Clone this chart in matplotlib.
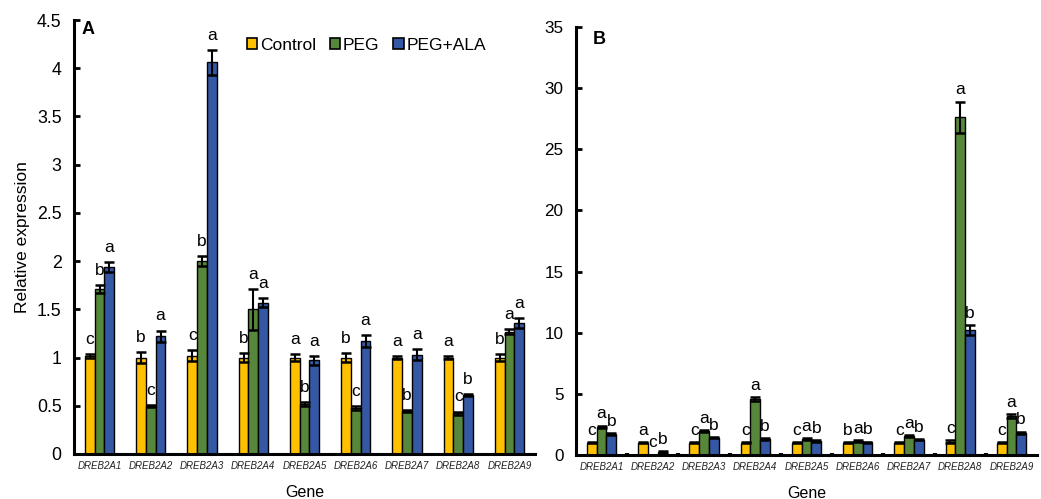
import matplotlib
matplotlib.use('Agg')
from matplotlib import pyplot as plt
import numpy as np

plt.rcParams['font.family'] = ['Liberation Sans', 'DejaVu Sans']

genes = ['DREB2A1', 'DREB2A2', 'DREB2A3', 'DREB2A4', 'DREB2A5',
         'DREB2A6', 'DREB2A7', 'DREB2A8', 'DREB2A9']
treatments = ['Control', 'PEG', 'PEG+ALA']
colors = ['#FFC000', '#56873A', '#3458A4']

# panel A
a_control = [1.02, 1.00, 1.02, 1.00, 1.00, 1.00, 1.00, 1.00, 1.00]
a_peg = [1.71, 0.50, 2.00, 1.50, 0.52, 0.48, 0.45, 0.42, 1.27]
a_ala = [1.94, 1.22, 4.06, 1.57, 0.97, 1.17, 1.03, 0.61, 1.36]
a_control_err = [0.02, 0.06, 0.06, 0.05, 0.04, 0.05, 0.02, 0.02, 0.04]
a_peg_err = [0.04, 0.01, 0.05, 0.21, 0.02, 0.02, 0.01, 0.02, 0.03]
a_ala_err = [0.05, 0.06, 0.13, 0.05, 0.05, 0.06, 0.06, 0.01, 0.05]
a_letters = [['c', 'b', 'a'], ['b', 'c', 'a'], ['c', 'b', 'a'], ['b', 'a', 'a'], ['a', 'b', 'a'],
             ['b', 'c', 'a'], ['a', 'b', 'a'], ['a', 'c', 'b'], ['b', 'a', 'a']]

# panel B
b_control = [1.0, 1.0, 1.0, 1.0, 1.0, 1.0, 1.0, 1.1, 1.0]
b_peg = [2.3, 0.02, 1.95, 4.6, 1.3, 1.15, 1.55, 27.6, 3.2]
b_ala = [1.7, 0.25, 1.4, 1.3, 1.15, 1.05, 1.25, 10.2, 1.8]
b_control_err = [0.05, 0.05, 0.05, 0.05, 0.05, 0.05, 0.05, 0.1, 0.05]
b_peg_err = [0.1, 0.01, 0.1, 0.15, 0.05, 0.05, 0.05, 1.3, 0.15]
b_ala_err = [0.1, 0.05, 0.05, 0.05, 0.05, 0.05, 0.05, 0.4, 0.1]
b_letters = [['c', 'a', 'b'], ['a', 'c', 'b'], ['c', 'a', 'b'], ['c', 'a', 'b'], ['c', 'a', 'b'],
             ['b', 'a', 'b'], ['c', 'a', 'b'], ['c', 'a', 'b'], ['c', 'a', 'b']]


def draw_panel(ax, values, errors, letters, ylim, yticks, letter_off, tick_fs):
    x = np.arange(len(genes))
    w = 0.19
    for k in range(3):
        pos = x + (k - 1) * w
        ax.bar(pos, values[k], w, color=colors[k], edgecolor='black', linewidth=1,
               label=treatments[k], zorder=2)
        ax.errorbar(pos, values[k], yerr=errors[k], fmt='none', ecolor='black',
                    elinewidth=1.5, capsize=3.3, capthick=1.8, zorder=3)
        for i in range(len(genes)):
            ax.annotate(letters[i][k], (pos[i], values[k][i] + errors[k][i]),
                        xytext=(0, letter_off), textcoords='offset points',
                        ha='center', va='center', fontsize=12.5)
    ax.set_xlim(-0.5, len(genes) - 0.5)
    ax.set_ylim(*ylim)
    ax.set_yticks(yticks)
    ax.set_yticklabels(['%g' % t for t in yticks], fontsize=tick_fs)
    ax.set_xticks(x)
    ax.set_xticklabels(genes, fontsize=7, style='italic', color='#222222')
    ax.tick_params(axis='x', length=0, pad=5)
    ax.tick_params(axis='y', direction='in', length=4, width=2, pad=9)
    for s in ['top', 'right']:
        ax.spines[s].set_visible(False)
    for s in ['left', 'bottom']:
        ax.spines[s].set_linewidth(2.2)
    ax.set_xlabel('Gene', fontsize=11.5, labelpad=10)


fig = plt.figure(figsize=(10.41, 4.99), dpi=100)
ax1 = fig.add_axes([0.0711, 0.0902, 0.4429, 0.8697])
ax2 = fig.add_axes([0.5533, 0.0882, 0.4429, 0.8577])

draw_panel(ax1, [a_control, a_peg, a_ala], [a_control_err, a_peg_err, a_ala_err],
           a_letters, (0, 4.5), np.arange(0, 4.51, 0.5), 10.5, 12.8)
draw_panel(ax2, [b_control, b_peg, b_ala], [b_control_err, b_peg_err, b_ala_err],
           b_letters, (0, 35), np.arange(0, 36, 5), 8.5, 12.3)

# small marks between gene groups in panel B
ax2.set_xticks(np.arange(0.5, len(genes) - 1, 1), minor=True)
ax2.tick_params(axis='x', which='minor', direction='in', length=1.5, width=3)

ax1.set_ylabel('Relative expression', fontsize=12.5, labelpad=5)
ax1.text(0.017, 0.997, 'A', transform=ax1.transAxes, fontsize=13,
         fontweight='bold', va='top')
ax2.text(0.037, 0.99, 'B', transform=ax2.transAxes, fontsize=13,
         fontweight='bold', va='top')

ax1.legend(loc='upper left', bbox_to_anchor=(0.36, 0.975), ncol=3, frameon=False,
           fontsize=12.5, handlelength=0.6, handleheight=0.6, handletextpad=0.15,
           columnspacing=0.8, borderaxespad=0)
for h in ax1.get_legend().legend_handles:
    h.set_linewidth(1.2)

plt.savefig('out.png', dpi=100)
